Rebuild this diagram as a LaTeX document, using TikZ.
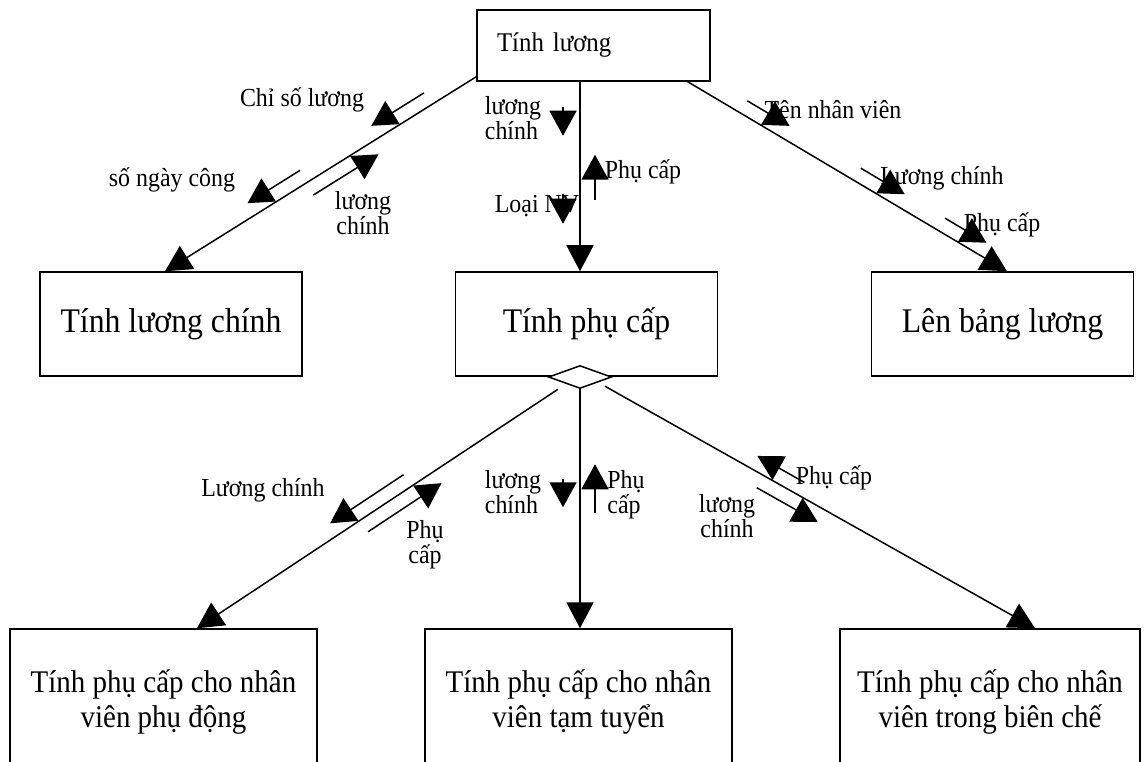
\documentclass[tikz,border=0pt]{standalone}
\usepackage{fontspec}
\setmainfont{Liberation Serif}[FakeStretch=0.92]
\usetikzlibrary{arrows.meta, calc, shapes.geometric}

% small data flow beside a connector: line from, line to, start, end, side, offset
\newcommand{\flagarr}[6]{%
  \draw[flag] ($(#1)!#3!(#2)!#6!#5:(#2)$) -- ($(#1)!#4!(#2)!#6!#5:(#2)$);}

\begin{document}
\begin{tikzpicture}[
  x=1pt, y=-1pt,
  >={Triangle[length=26pt, width=27pt]},
  box/.style={rectangle, draw, line width=1.5pt, fill=white, align=center, inner sep=0pt, font=\fontsize{34.5}{36}\selectfont, minimum width=262pt, minimum height=104pt},
  lowbox/.style={box, font=\fontsize{31.5}{35}\selectfont, minimum width=307pt, minimum height=146pt},
  lbl/.style={inner sep=0pt, align=center, font=\fontsize{26}{25}\selectfont},
  main/.style={line width=1.5pt, ->},
  flag/.style={line width=1.5pt, -{Triangle[length=25pt, width=27pt]}}
]
\useasboundingbox (0,0) rectangle (1144,762);
\clip (0,0) rectangle (1144,762);
\fill[white] (0,0) rectangle (1144,762);

% Boxes
\node[box, minimum width=233pt, minimum height=71pt, text width=193pt, align=left, inner xsep=20pt, font=\fontsize{27}{30}\selectfont] (top) at (593.5,45.5) {Tính lương};
\node[box] (lc) at (171,324) {Tính lương chính};
\node[box] (pc) at (586.5,324) {Tính phụ cấp};
\node[box] (bl) at (1002.5,324) {Lên bảng lương};
\node[diamond, draw, line width=1.5pt, fill=white, minimum width=63pt, minimum height=23pt, inner sep=0pt] (dia) at (580,377) {};

\node[lowbox] (b1) at (163.5,702) {Tính phụ cấp cho nhân\\viên phụ động};
\node[lowbox] (b2) at (578.5,702) {Tính phụ cấp cho nhân\\viên tạm tuyển};
\node[lowbox, minimum width=300pt] (b3) at (990,702) {Tính phụ cấp cho nhân\\viên trong biên chế};

% Connector ends
\coordinate (s1) at ($(top.south west)+(0,-5)$);
\coordinate (e1) at ($(lc.north)+(-6,0)$);
\coordinate (s2) at ($(top.south)+(-13.5,0)$);
\coordinate (e2) at ($(pc.north)+(-6.5,0)$);
\coordinate (s3) at ($(top.south east)+(-23,0)$);
\coordinate (e3) at ($(bl.north)+(4.5,0)$);
\coordinate (s4) at ($(dia.south)+(-22,0)$);
\coordinate (e4) at ($(b1.north)+(33.5,0)$);
\coordinate (s5) at (dia.south);
\coordinate (e5) at ($(b2.north)+(1.5,0)$);
\coordinate (s6) at ($(dia.south)+(25,-3)$);
\coordinate (e6) at ($(b3.north)+(45,0)$);

\foreach \i in {1,...,6} {
  \draw[main] (s\i) -- (e\i);
}

% Labels
\node[lbl] (l_chiso) at (302,100) {Chỉ số lương};
\node[lbl] (l_ngay) at (172,180) {số ngày công};
\node[lbl] (l_lc1) at (363,213) {lương\\chính};
\node[lbl, align=left] (l_lc2) at (513,118) {lương\\chính};
\node[lbl] (l_pc2) at (643,172) {Phụ cấp};
\node[lbl] (l_loai) at (537,206) {Loại NV};
\node[lbl] (l_ten) at (833,110) {Tên nhân viên};
\node[lbl] (l_lc3) at (942,178) {Lương chính};
\node[lbl] (l_pc3) at (1002,225) {Phụ cấp};
\node[lbl] (l_lc4) at (263,490) {Lương chính};
\node[lbl] (l_pc4) at (425,545) {Phụ\\cấp};
\node[lbl, align=left] (l_lc5) at (513,492) {lương\\chính};
\node[lbl, align=left] (l_pc5) at (626,495) {Phụ\\cấp};
\node[lbl] (l_pc6) at (834,478) {Phụ cấp};
\node[lbl] (l_lc6) at (727,516) {lương\\chính};

% Flows along the connectors
\flagarr{s1}{e1}{53pt}{115pt}{-90}{14pt}
\flagarr{s1}{e1}{199pt}{261pt}{-90}{14pt}
\flagarr{s1}{e1}{201pt}{124pt}{90}{14pt}

\flagarr{s2}{e2}{25pt}{54pt}{-90}{17pt}
\flagarr{s2}{e2}{118pt}{73pt}{90}{15pt}
\flagarr{s2}{e2}{112pt}{142pt}{-90}{17pt}

\flagarr{s3}{e3}{61pt}{110pt}{90}{14pt}
\flagarr{s3}{e3}{193pt}{244pt}{90}{14pt}
\flagarr{s3}{e3}{291pt}{339pt}{90}{14pt}

\flagarr{s4}{e4}{176pt}{264pt}{-90}{14pt}
\flagarr{s4}{e4}{237pt}{149pt}{90}{14pt}

\flagarr{s5}{e5}{90pt}{118pt}{-90}{17pt}
\flagarr{s5}{e5}{124pt}{75pt}{90}{15pt}

\flagarr{s6}{e6}{221pt}{167pt}{90}{14pt}
\flagarr{s6}{e6}{182pt}{252pt}{-90}{14pt}

\end{tikzpicture}
\end{document}
